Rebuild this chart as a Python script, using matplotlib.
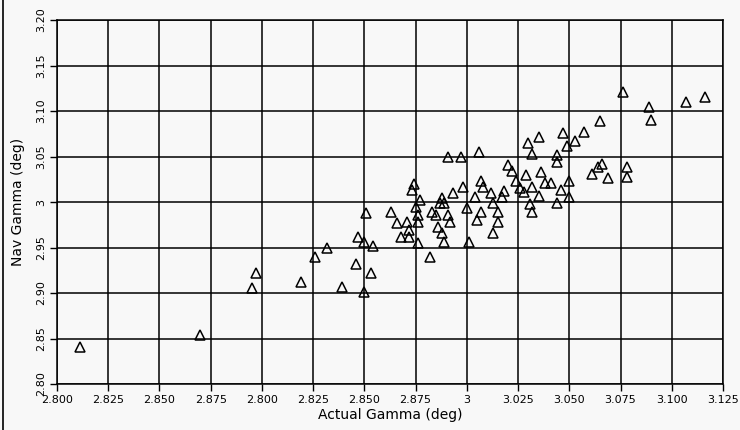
import numpy as np
import matplotlib
matplotlib.use('Agg')
from matplotlib import pyplot as plt
from matplotlib.lines import Line2D

# Valores (Actual Gamma x Nav Gamma)
actual = [2.811, 2.870, 2.895, 2.897, 2.919, 2.926, 2.932, 2.939, 2.946, 2.950,
          2.953, 2.947, 2.950, 2.954, 2.951, 2.963, 2.966, 2.968, 2.971, 2.972,
          2.972, 2.974, 2.973, 2.977, 2.975, 2.976, 2.976, 2.976, 2.982, 2.983,
          2.985, 2.988, 2.987, 2.989, 2.991, 2.992, 2.986, 2.988, 2.989, 2.993,
          2.998, 3.000, 3.001, 3.004, 3.005, 3.007, 3.007, 3.008, 3.012, 3.013,
          3.015, 3.015, 3.013, 3.017, 3.018, 3.022, 3.020, 3.024, 3.026, 3.028,
          3.032, 3.035, 3.031, 3.032, 3.038, 3.041, 3.044, 3.046, 3.050, 3.050,
          3.029, 3.036, 2.991, 2.997, 3.006, 3.030, 3.035, 3.032, 3.044, 3.044,
          3.047, 3.053, 3.049, 3.057, 3.065, 3.076, 3.089, 3.090, 3.107, 3.116,
          3.066, 3.064, 3.061, 3.069, 3.078, 3.078]
nav = [2.841, 2.854, 2.906, 2.922, 2.912, 2.940, 2.950, 2.907, 2.932, 2.901,
       2.922, 2.962, 2.956, 2.952, 2.988, 2.989, 2.977, 2.962, 2.978, 2.962,
       2.969, 3.020, 3.013, 3.002, 2.995, 2.986, 2.978, 2.955, 2.940, 2.989,
       2.986, 3.004, 2.999, 2.999, 2.986, 2.978, 2.972, 2.966, 2.956, 3.010,
       3.016, 2.993, 2.956, 3.005, 2.980, 2.989, 3.023, 3.016, 3.010, 2.999,
       2.989, 2.978, 2.966, 3.005, 3.012, 3.034, 3.041, 3.023, 3.015, 3.011,
       3.017, 3.007, 2.998, 2.989, 3.021, 3.021, 2.999, 3.013, 3.006, 3.023,
       3.030, 3.033, 3.049, 3.049, 3.055, 3.065, 3.071, 3.053, 3.052, 3.044,
       3.076, 3.067, 3.061, 3.077, 3.089, 3.121, 3.104, 3.090, 3.110, 3.115,
       3.042, 3.038, 3.031, 3.026, 3.038, 3.028]

xticks = np.arange(2.8, 3.1251, 0.025)
xlabels = ['2.800', '2.825', '2.850', '2.875', '2.800', '2.825', '2.850',
           '2.875', '3', '3.025', '3.050', '3.075', '3.100', '3.125']
yticks = np.arange(2.8, 3.2001, 0.05)
ylabels = ['2.80', '2.85', '2.90', '2.95', '3', '3.05', '3.10', '3.15', '3.20']

fig = plt.figure(figsize=(7.4, 4.3), dpi=100, facecolor='#f8f8f8')
ax = fig.add_axes([57/740, 46/430, 666/740, 364/430])
ax.set_facecolor('#f8f8f8')

# Pontos (triângulos vazados)
ax.plot(actual, nav, linestyle='none', marker='^', markersize=7.2,
        markerfacecolor='none', markeredgecolor='black', markeredgewidth=1.1)

ax.set_xlim(2.8, 3.125)
ax.set_ylim(2.8, 3.2)
ax.set_xticks(xticks)
ax.set_xticklabels(xlabels, fontsize=8)
ax.set_yticks(yticks)
ax.set_yticklabels(ylabels, fontsize=8, rotation=90, va='center')
ax.tick_params(direction='out', length=5, width=1, pad=3)

ax.grid(True, color='black', linewidth=1.1)
for s in ax.spines.values():
    s.set_linewidth(1.1)

ax.set_xlabel('Actual Gamma (deg)', fontsize=10, labelpad=2)
ax.set_ylabel('Nav Gamma (deg)', fontsize=10, labelpad=8)

# moldura esquerda da imagem
fig.add_artist(Line2D([0.004, 0.004], [0, 1], color='black', linewidth=1.2,
                      transform=fig.transFigure))

fig.savefig('out.png', dpi=100, facecolor=fig.get_facecolor())
